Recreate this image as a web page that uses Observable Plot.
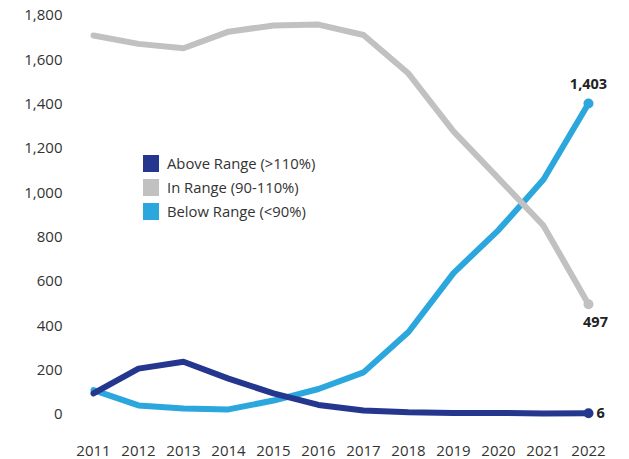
<!DOCTYPE html>
<html>
<head>
<meta charset="utf-8">
<script src="https://cdn.jsdelivr.net/npm/d3@7"></script>
<script src="https://cdn.jsdelivr.net/npm/@observablehq/plot@0.6"></script>
<style>
  html, body { margin: 0; padding: 0; background: #fff; }
  #wrap { position: relative; width: 629px; height: 459px; font-family: "Open Sans", sans-serif; }
  #legend { position: absolute; left: 143px; top: 151px; font-size: 14.8px; color: #333; }
  #legend .row { display: flex; align-items: center; height: 24px; }
  #legend .sw { width: 16px; height: 17px; margin-right: 8px; }
</style>
</head>
<body>
<div id="wrap"><div id="legend"></div></div>
<script>
const years = [2011, 2012, 2013, 2014, 2015, 2016, 2017, 2018, 2019, 2020, 2021, 2022];
const aboveRange = [95, 207, 238, 162, 95, 43, 18, 10, 7, 7, 5, 6];
const inRange = [1710, 1672, 1652, 1727, 1755, 1759, 1712, 1538, 1277, 1065, 852, 497];
const belowRange = [110, 41, 27, 23, 63, 115, 190, 372, 638, 832, 1060, 1403];
const seriesNames = ["Above Range (>110%)", "In Range (90-110%)", "Below Range (<90%)"];
const seriesColors = ["#25368f", "#c1c1c1", "#2ba7dd"];
const yTicks = [0, 200, 400, 600, 800, 1000, 1200, 1400, 1600, 1800];

const seriesValues = [aboveRange, inRange, belowRange];
const data = [];
seriesNames.forEach((name, i) => {
  years.forEach((yr, j) => data.push({series: name, year: yr, value: seriesValues[i][j], color: seriesColors[i]}));
});
const drawOrder = [2, 1, 0];
const last = data.filter(d => d.year === years[years.length - 1]);
const fmt = d3.format(",");

const lineMarks = drawOrder.map(i =>
  Plot.line(data.filter(d => d.series === seriesNames[i]), {
    x: "year", y: "value", stroke: seriesColors[i], strokeWidth: 6,
    strokeLinejoin: "round", strokeLinecap: "round"
  })
);

const chart = Plot.plot({
  width: 629,
  height: 459,
  marginLeft: 93,
  marginRight: 41,
  marginTop: 15,
  marginBottom: 45,
  style: {fontFamily: "Open Sans, sans-serif", fontSize: "15px", color: "#333", background: "transparent"},
  x: {domain: [2011, 2022], label: null},
  y: {domain: [0, 1800], label: null},
  marks: [
    Plot.axisY({ticks: yTicks, tickSize: 0, tickPadding: 31, tickFormat: fmt, label: null, fontSize: 15}),
    Plot.axisX({ticks: years, tickSize: 0, tickPadding: 31, tickFormat: d => String(d), label: null, fontSize: 15}),
    ...lineMarks,
    Plot.dot(last, {x: "year", y: "value", fill: "color", r: 5}),
    Plot.text(last.filter(d => d.series === seriesNames[2]), {x: "year", y: "value", text: d => fmt(d.value), dy: -19, fontWeight: "bold", fontSize: 14.5, fill: "#222"}),
    Plot.text(last.filter(d => d.series === seriesNames[1]), {x: "year", y: "value", text: d => fmt(d.value), dy: 18, dx: 7, fontWeight: "bold", fontSize: 14.5, fill: "#222"}),
    Plot.text(last.filter(d => d.series === seriesNames[0]), {x: "year", y: "value", text: d => fmt(d.value), dx: 8, textAnchor: "start", fontWeight: "bold", fontSize: 14.5, fill: "#222"})
  ]
});
const wrap = document.getElementById("wrap");
wrap.insertBefore(chart, wrap.firstChild);

const legend = document.getElementById("legend");
seriesNames.forEach((name, i) => {
  const row = document.createElement("div");
  row.className = "row";
  const sw = document.createElement("div");
  sw.className = "sw";
  sw.style.background = seriesColors[i];
  const lab = document.createElement("span");
  lab.textContent = name;
  row.appendChild(sw);
  row.appendChild(lab);
  legend.appendChild(row);
});
</script>
</body>
</html>
